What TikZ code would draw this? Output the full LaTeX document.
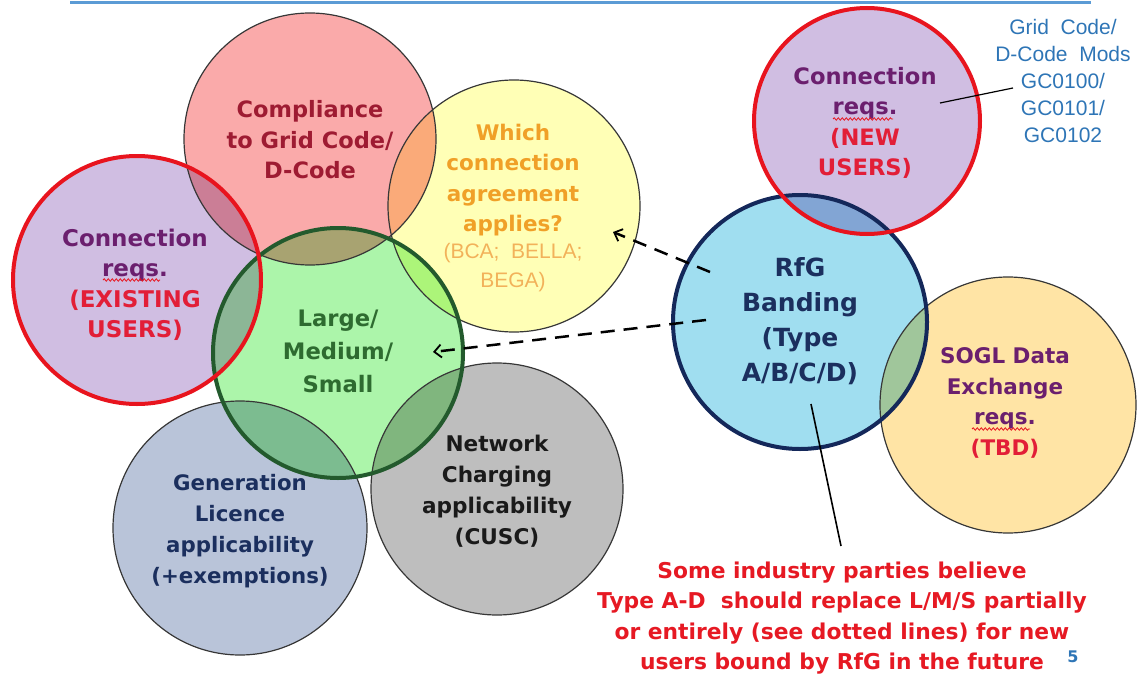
\documentclass[tikz,border=0pt]{standalone}
\usepackage{fontspec}
\setmainfont{DejaVu Sans}
\newfontfamily\arialf{Liberation Sans}
\usetikzlibrary{arrows.meta,decorations.pathmorphing}
\definecolor{cPink}{RGB}{250,170,170}
\definecolor{cYel}{RGB}{255,255,182}
\definecolor{cPur}{RGB}{208,190,226}
\definecolor{cGrn}{RGB}{172,245,170}
\definecolor{cBG}{RGB}{185,196,217}
\definecolor{cGry}{RGB}{190,190,190}
\definecolor{cLB}{RGB}{160,222,240}
\definecolor{cTan}{RGB}{255,228,165}
\definecolor{bRed}{RGB}{232,20,30}
\definecolor{bGrn}{RGB}{35,90,45}
\definecolor{bNavy}{RGB}{20,40,90}
\definecolor{bThin}{RGB}{55,55,55}
\definecolor{tCrim}{RGB}{158,27,50}
\definecolor{tOrg}{RGB}{240,160,40}
\definecolor{tOrgL}{RGB}{242,178,90}
\definecolor{tPur}{RGB}{107,31,110}
\definecolor{tRed}{RGB}{226,30,55}
\definecolor{tGrn}{RGB}{46,107,48}
\definecolor{tNavy}{RGB}{27,47,94}
\definecolor{tDark}{RGB}{26,26,26}
\definecolor{tBlue}{RGB}{46,117,182}
\definecolor{tBotRed}{RGB}{230,25,35}
\definecolor{topBlue}{RGB}{91,155,213}
\begin{document}
\begin{tikzpicture}[x=1pt,y=-1pt,
  circ/.style={circle,inner sep=0pt,minimum size=#1},
  thinb/.style={draw=bThin,line width=1.2pt},
  thickb/.style={line width=4pt},
  lbl/.style={align=center,inner sep=0pt,font=\bfseries\fontsize{#1}{30.5}\selectfont},
  dasharr/.style={draw=black,line width=2.5pt,dash pattern=on 14pt off 9pt,-{Straight Barb[length=7pt,width=13pt,line width=1.8pt]}},
  pointer/.style={draw=black,line width=1.2pt},
  squig/.style={draw=bRed,line width=0.8pt,decorate,decoration={snake,segment length=4pt,amplitude=1.2pt}}]
\useasboundingbox (0,0) rectangle (1141,677);
\coordinate (tl1) at (70,2.5);
\coordinate (tl2) at (1091,2.5);
\draw[topBlue,line width=2.5pt] (tl1) -- (tl2);
\begin{scope}[blend mode=multiply]
\node[circ=252pt,fill=cPink] (comp) at (310,139) {};
\node[circ=252pt,fill=cYel] (which) at (514,206) {};
\node[circ=248pt,fill=cPur] (exist) at (137,280) {};
\node[circ=250pt,fill=cGrn] (lms) at (338,353) {};
\node[circ=254pt,fill=cBG] (gen) at (240,528) {};
\node[circ=252pt,fill=cGry] (net) at (497,489) {};
\node[circ=226pt,fill=cPur] (new) at (867,121) {};
\node[circ=254pt,fill=cLB] (rfg) at (800,322) {};
\node[circ=256pt,fill=cTan] (sogl) at (1008,405) {};
\end{scope}
% thin borders
\draw[thinb] (comp.center) circle[radius=126];
\draw[thinb] (which.center) circle[radius=126];
\draw[thinb] (gen.center) circle[radius=127];
\draw[thinb] (net.center) circle[radius=126];
\draw[thinb] (sogl.center) circle[radius=128];
% thick borders
\draw[thickb,draw=bGrn] (lms.center) circle[radius=125];
\draw[thickb,draw=bNavy] (rfg.center) circle[radius=127];
\draw[thickb,draw=bRed] (exist.center) circle[radius=124];
\draw[thickb,draw=bRed] (new.center) circle[radius=113];
% texts
\node[lbl=22.5,text=tCrim] (compT) at (310,140) {Compliance\\to Grid Code/\\D-Code};
\node[lbl=21.5,text=tOrg] (whichT) at (513,180) {Which\\connection\\agreement\\applies?};
\node[align=center,inner sep=0pt,font=\arialf\fontsize{21}{29}\selectfont,text=tOrgL] (bcaT) at (513,268) {(BCA;\ \ BELLA;\\BEGA)};
\node[lbl=23,text=tPur] (existT) at (135,285) {Connection\\reqs.\\\textcolor{tRed}{(EXISTING}\\\textcolor{tRed}{USERS)}};
\node[lbl=22.7,text=tGrn,font=\bfseries\fontsize{22.7}{33}\selectfont] (lmsT) at (338,351) {Large/\\Medium/\\Small};
\node[lbl=21.3,text=tNavy,font=\bfseries\fontsize{21.3}{31}\selectfont] (genT) at (240,531) {Generation\\Licence\\applicability\\(+exemptions)};
\node[lbl=21.6,text=tDark,font=\bfseries\fontsize{21.6}{31}\selectfont] (netT) at (497,491) {Network\\Charging\\applicability\\(CUSC)};
\node[lbl=22.6,text=tPur] (newT) at (865,123) {Connection\\reqs.\\\textcolor{tRed}{(NEW}\\\textcolor{tRed}{USERS)}};
\node[lbl=25,text=tNavy,font=\bfseries\fontsize{25}{35}\selectfont] (rfgT) at (800,321) {RfG\\Banding\\(Type\\A/B/C/D)};
\node[lbl=21.5,text=tPur] (soglT) at (1005,403) {SOGL Data\\Exchange\\reqs.\\\textcolor{tRed}{(TBD)}};
\node[align=center,inner sep=0pt,font=\arialf\fontsize{21}{26.8}\selectfont,text=tBlue] (gridT) at (1063,81) {Grid\ \ Code/\\D-Code\ \ Mods\\GC0100/\\GC0101/\\GC0102};
\node[lbl=21.8,text=tBotRed,font=\bfseries\fontsize{21.8}{30.5}\selectfont] (botT) at (842,618) {Some industry parties believe\\Type A-D\ \ should replace L/M/S partially\\or entirely (see dotted lines) for new\\users bound by RfG in the future};
\node[inner sep=0pt,font=\bfseries\fontsize{16}{18}\selectfont,text=tBlue] (pageT) at (1073,657) {5};
% squiggles under reqs.
\draw[squig] (103,280) -- (160,280);
\draw[squig] (833,119) -- (893,119);
\draw[squig] (972,429) -- (1030,429);
% connectors
\coordinate (d1s) at (710,272);
\coordinate (d1e) at (613,232);
\coordinate (d2s) at (706,320);
\coordinate (d2e) at (433,352);
\draw[dasharr] (d1s) -- (d1e);
\draw[dasharr] (d2s) -- (d2e);
\coordinate (g1) at (940,103);
\coordinate (g2) at (1013,88);
\draw[pointer] (g1) -- (g2);
\coordinate (r1) at (811,404);
\coordinate (r2) at (841,546);
\draw[pointer,line width=1.6pt] (r1) -- (r2);
\end{tikzpicture}
\end{document}
